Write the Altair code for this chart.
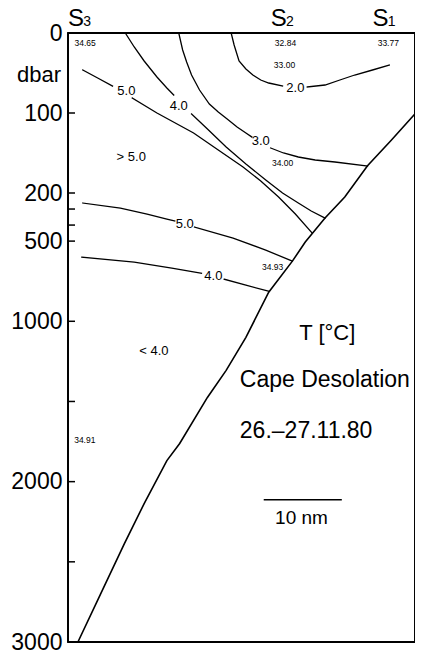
import altair as alt
import pandas as pd

FONT = "Liberation Sans"
XMAX = 44.43  # nm across the section
DMAX = 3000

# ---- bathymetry (distance in nm, pressure in dbar) ----
slope_x = [1.27, 4.18, 7.22, 9.75, 12.66, 14.30, 17.85, 20.25, 22.78, 25.70, 28.73, 30.38, 32.91, 35.44, 38.35, 41.39, 44.43]
slope_d = [3000, 2700, 2387, 2137, 1869, 1762, 1475, 1306, 1100, 819, 625, 506, 356, 225, 166, 134, 101]

# ---- isotherms (split where labels interrupt them) ----
t20a_x = [20.89, 21.27, 21.90, 22.78, 23.67, 24.68, 25.70, 27.47]
t20a_d = [0, 15, 35, 45, 52.5, 58.75, 62.5, 66.25]
t20b_x = [30.63, 32.91, 34.81, 36.71, 38.99, 41.14]
t20b_d = [67.5, 65, 58.75, 52.5, 46.25, 40]

t30a_x = [14.18, 14.68, 15.19, 15.82, 16.84, 18.10, 19.24, 20.38, 21.65, 22.78, 23.54]
t30a_d = [0, 21.25, 36.25, 52.5, 71.25, 88.75, 98.75, 107.5, 117.5, 125, 130]
t30b_x = [25.95, 27.59, 29.49, 31.65, 34.18, 38.35]
t30b_d = [143.75, 150, 155, 158.75, 161.25, 166.25]

t40a_x = [7.34, 8.48, 9.75, 11.39, 12.66, 13.54]
t40a_d = [0, 17.5, 35, 55, 68.75, 77.5]
t40b_x = [15.82, 17.72, 20.25, 22.78, 25.32, 27.47, 29.49, 31.14, 32.91]
t40b_d = [101.25, 118.75, 142.5, 163.75, 183.75, 200, 262.5, 312.5, 356.25]

t50a_x = [1.90, 3.80, 5.70]
t50a_d = [46.25, 56.25, 66.25]
t50b_x = [8.23, 11.39, 16.08, 19.24, 22.41, 24.68, 26.96, 29.11, 31.27]
t50b_d = [81.25, 100, 125, 146.25, 167.5, 185, 225, 331.25, 450]

t50c_x = [1.90, 6.71, 10.13, 12.66, 13.67]
t50c_d = [262.5, 293.75, 331.25, 362.5, 375]
t50d_x = [16.20, 21.14, 25.32, 28.73]
t50d_d = [412.5, 481.25, 556.25, 625]

t40c_x = [1.77, 8.48, 13.29, 17.09]
t40c_d = [600, 631.25, 668.75, 700]
t40d_x = [20.0, 22.78, 25.70]
t40d_d = [737.5, 775, 812.5]

# ---- section frame as a closed outline ----
box_x = [0.0, XMAX, XMAX, 0.0, 0.0]
box_d = [0.0, 0.0, float(DMAX), float(DMAX), 0.0]

# ---- contour labels ----
clab_text = ["5.0", "4.0", "3.0", "2.0", "5.0", "4.0"]
clab_x = [7.47, 14.18, 24.68, 29.11, 14.94, 18.61]
clab_d = [72.5, 91.25, 135, 68.75, 393.75, 718.75]

# ---- salinity values ----
sal_text = ["34.65", "32.84", "33.77", "33.00", "34.00", "34.93", "34.91"]
sal_x = [2.2, 27.85, 41.01, 27.72, 27.47, 26.2, 2.15]
sal_d = [12.5, 12.5, 12.5, 40, 162.5, 662.5, 1737.5]

# ---- region labels ----
reg_text = ["> 5.0", "< 4.0"]
reg_x = [8.1, 11.0]
reg_d = [155, 1187.5]

# ---- stations ----
st_letter = ["S", "S", "S"]
st_sub = ["3", "2", "1"]
st_x = [0.0, 25.95, 38.99]
st_sub_x = [1.95, 27.9, 40.94]
st_d = [-8.75, -8.75, -8.75]

# ---- axis ----
y_ticks_labeled = [0, 100, 200, 500, 1000, 2000, 3000]
y_ticks_all = [100, 200, 300, 400, 500, 1000, 1500, 2000, 2500]
tick_len_nm = 0.9

# ---- scale bar (10 nm) ----
bar_x = [25.06]
bar_x2 = [35.06]
bar_d = [2112.5]

# ---- frame lines (left, top, right, bottom) ----
frame_x = [0.0, 0.0, XMAX, 0.0]
frame_x2 = [0.0, XMAX, XMAX, XMAX]
frame_d = [0.0, 0.0, 0.0, float(DMAX)]
frame_d2 = [float(DMAX), 0.0, float(DMAX), float(DMAX)]
frame_c = ["black", "black", "black", "black"]

rows = []
segs = {
    "box": (box_x, box_d),
    "slope": (slope_x, slope_d), "t20a": (t20a_x, t20a_d), "t20b": (t20b_x, t20b_d),
    "t30a": (t30a_x, t30a_d), "t30b": (t30b_x, t30b_d), "t40a": (t40a_x, t40a_d),
    "t40b": (t40b_x, t40b_d), "t50a": (t50a_x, t50a_d), "t50b": (t50b_x, t50b_d),
    "t50c": (t50c_x, t50c_d), "t50d": (t50d_x, t50d_d), "t40c": (t40c_x, t40c_d),
    "t40d": (t40d_x, t40d_d),
}
for name, (xs, ds) in segs.items():
    w = 1.8 if name == "box" else (1.6 if name == "slope" else 1.3)
    for i, (x, d) in enumerate(zip(xs, ds)):
        rows.append({"seg": name, "i": i, "x": x, "d": d, "w": w})
lines_df = pd.DataFrame(rows)

xscale = alt.Scale(domain=[0, XMAX], nice=False, zero=False)
yscale = alt.Scale(domain=[0, 200, DMAX], range=[0, 160, 609], nice=False, zero=False)
X = alt.X("x:Q", scale=xscale, axis=None)
Y = alt.Y("d:Q", scale=yscale, axis=alt.Axis(
    values=y_ticks_labeled, format="d", ticks=False, domain=False, grid=False, title=None,
    labelFont=FONT, labelFontSize=23, labelColor="black", labelPadding=6,
    labelOverlap=False, labelFlush=False))

frame_df = pd.DataFrame({"x": frame_x, "x2": frame_x2, "d": frame_d, "d2": frame_d2, "c": frame_c})
frame = alt.Chart(frame_df).mark_rule(strokeWidth=1.8).encode(
    x=X, x2="x2:Q", y=Y, y2="d2:Q", color=alt.Color("c:N", scale=None))

lines = alt.Chart(lines_df).mark_line(color="black", strokeJoin="miter", strokeCap="square").encode(
    x=X, y=Y, detail="seg:N", order="i:Q",
    strokeWidth=alt.StrokeWidth("w:Q", scale=None))

ticks_df = pd.DataFrame({"d": y_ticks_all, "x": [0.0] * len(y_ticks_all), "x2": [tick_len_nm] * len(y_ticks_all)})
ticks = alt.Chart(ticks_df).mark_rule(color="black", strokeWidth=1.5).encode(x=X, x2="x2:Q", y=Y)

bar_df = pd.DataFrame({"x": bar_x, "x2": bar_x2, "d": bar_d})
bar = alt.Chart(bar_df).mark_rule(color="black", strokeWidth=1.5).encode(x=X, x2="x2:Q", y=Y)


def text_layer(texts, xs, ds, size, align="center", baseline="middle"):
    df = pd.DataFrame({"t": texts, "x": xs, "d": ds})
    return alt.Chart(df).mark_text(font=FONT, fontSize=size, color="black", align=align,
                                   baseline=baseline).encode(x=X, y=Y, text="t:N")


clabels = text_layer(clab_text, clab_x, clab_d, 13)
sal = text_layer(sal_text, sal_x, sal_d, 8.5)
reg = text_layer(reg_text, reg_x, reg_d, 13)
st1 = text_layer(st_letter, st_x, st_d, 24, align="left", baseline="alphabetic")
st2 = text_layer(st_sub, st_sub_x, st_d, 14, align="left", baseline="alphabetic")
dbar = text_layer(["dbar"], [-0.9], [52.5], 22, align="right")
title1 = text_layer(["T [°C]"], [33.2], [1075], 22)
title2 = text_layer(["Cape Desolation", "26.–27.11.80"], [22.0, 22.0], [1368.75, 1681.25], 23, align="left")
barlab = text_layer(["10 nm"], [29.9], [2225], 19)

chart = alt.layer(frame, lines, ticks, bar, clabels, sal, reg, st1, st2, dbar, title1, title2, barlab).properties(
    width=347, height=609,
    autosize=alt.AutoSizeParams(type="none"),
    padding={"left": 60, "top": 25, "right": 0, "bottom": 8},
).configure(background="white")

chart.save("out.html", embed_options={"renderer": "svg", "actions": False})
